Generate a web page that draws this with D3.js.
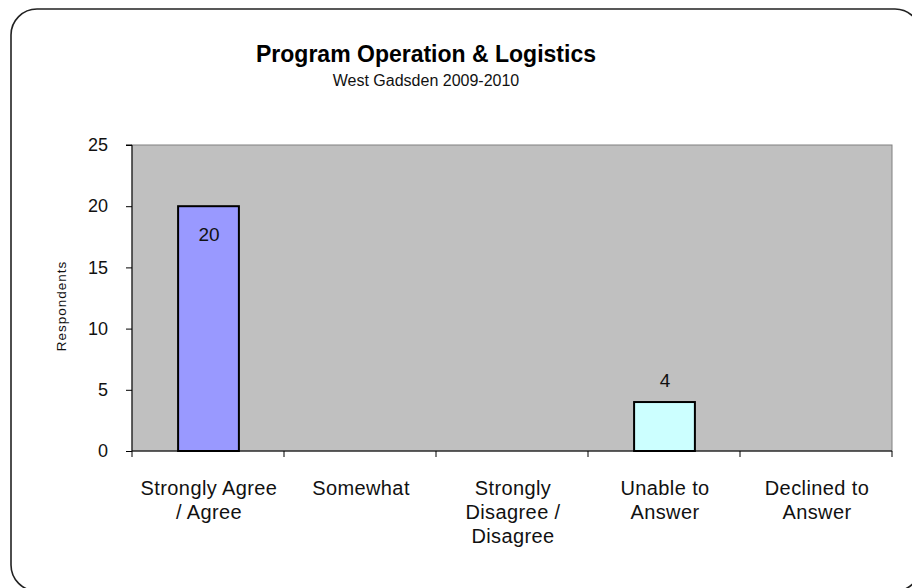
<!DOCTYPE html>
<html><head><meta charset="utf-8">
<script src="https://cdn.jsdelivr.net/npm/d3@7"></script>
<style>html,body{margin:0;padding:0;background:#fff;}svg{display:block;}</style>
</head><body>
<script>
const categories = [["Strongly Agree","/ Agree"],["Somewhat"],["Strongly","Disagree /","Disagree"],["Unable to","Answer"],["Declined to","Answer"]];
const values = [20, 0, 0, 4, 0];
const barColors = ["#9999ff", "#993366", "#ffffcc", "#ccffff", "#660066"];
const yTicks = [0, 5, 10, 15, 20, 25];
const title = "Program Operation & Logistics";
const subtitle = "West Gadsden 2009-2010";
const yLabel = "Respondents";

const W = 912, H = 588;
const svg = d3.select("body").append("svg").attr("width", W).attr("height", H);
const font = "Liberation Sans, Arial, sans-serif";

svg.append("rect").attr("x", 11).attr("y", 9).attr("width", 910).attr("height", 582)
  .attr("rx", 26).attr("fill", "#fff").attr("stroke", "#222").attr("stroke-width", 1.6);

const plot = {l: 132, r: 892, t: 145, b: 451};
const x = d3.scaleBand().domain(d3.range(categories.length)).range([plot.l, plot.r]).padding(0);
const y = d3.scaleLinear().domain([0, 25]).range([plot.b, plot.t]);

svg.append("rect").attr("x", plot.l).attr("y", plot.t).attr("width", plot.r - plot.l).attr("height", plot.b - plot.t)
  .attr("fill", "#c0c0c0").attr("stroke", "#808080").attr("stroke-width", 1);

const bw = x.bandwidth() * 0.4;
const data = values.map((v, i) => ({v, i})).filter(d => d.v > 0);
svg.selectAll("rect.bar").data(data).enter()
  .append("rect").attr("class", "bar")
  .attr("x", d => x(d.i) + x.bandwidth() / 2 - bw / 2 + 0.5)
  .attr("y", d => y(d.v))
  .attr("width", bw)
  .attr("height", d => y(0) - y(d.v))
  .attr("fill", d => barColors[d.i]).attr("stroke", "#000").attr("stroke-width", 2);

svg.selectAll("text.lbl").data(data).enter()
  .append("text").attr("class", "lbl")
  .attr("x", d => x(d.i) + x.bandwidth() / 2 + 1)
  .attr("y", d => d.v >= 10 ? y(d.v) + 35 : y(d.v) - 15)
  .attr("text-anchor", "middle").attr("font-family", font).attr("font-size", 19).attr("fill", "#111")
  .text(d => d.v);

const yAxis = d3.axisLeft(y).tickValues(yTicks).tickSize(6).tickPadding(18);
const gy = svg.append("g").attr("transform", `translate(${plot.l},0)`).call(yAxis);
gy.select(".domain").attr("stroke", "#000").attr("d", `M-6,${plot.t}H0V${plot.b}`);
gy.selectAll(".tick line").attr("stroke", "#000");
gy.selectAll("text").attr("font-family", font).attr("font-size", 18).attr("fill", "#111");

const gx = svg.append("g").attr("transform", `translate(0,${plot.b})`);
gx.append("line").attr("x1", plot.l).attr("x2", plot.r).attr("y1", 0).attr("y2", 0).attr("stroke", "#000");
const tickPos = d3.range(categories.length + 1).map(i => plot.l + i * x.step());
gx.selectAll("line.t").data(tickPos).enter().append("line").attr("class", "t")
  .attr("x1", d => d).attr("x2", d => d).attr("y1", 0).attr("y2", 6).attr("stroke", "#000");
categories.forEach((lines, i) => {
  const t = gx.append("text").attr("text-anchor", "middle").attr("font-family", font).attr("font-size", 20)
    .attr("letter-spacing", 0.4).attr("fill", "#111");
  lines.forEach((ln, k) => {
    t.append("tspan").attr("x", x(i) + x.bandwidth() / 2 + 1).attr("y", 44 + k * 24).text(ln);
  });
});

svg.append("text").attr("transform", `translate(66,306) rotate(-90)`)
  .attr("text-anchor", "middle").attr("font-family", font).attr("font-size", 13.5).attr("letter-spacing", 1)
  .attr("fill", "#111").text(yLabel);

svg.append("text").attr("x", 426).attr("y", 62).attr("text-anchor", "middle").attr("font-family", font)
  .attr("font-size", 23).attr("font-weight", "bold").attr("fill", "#000").text(title);
svg.append("text").attr("x", 426).attr("y", 86).attr("text-anchor", "middle").attr("font-family", font)
  .attr("font-size", 16).attr("fill", "#111").text(subtitle);
</script>
</body></html>
